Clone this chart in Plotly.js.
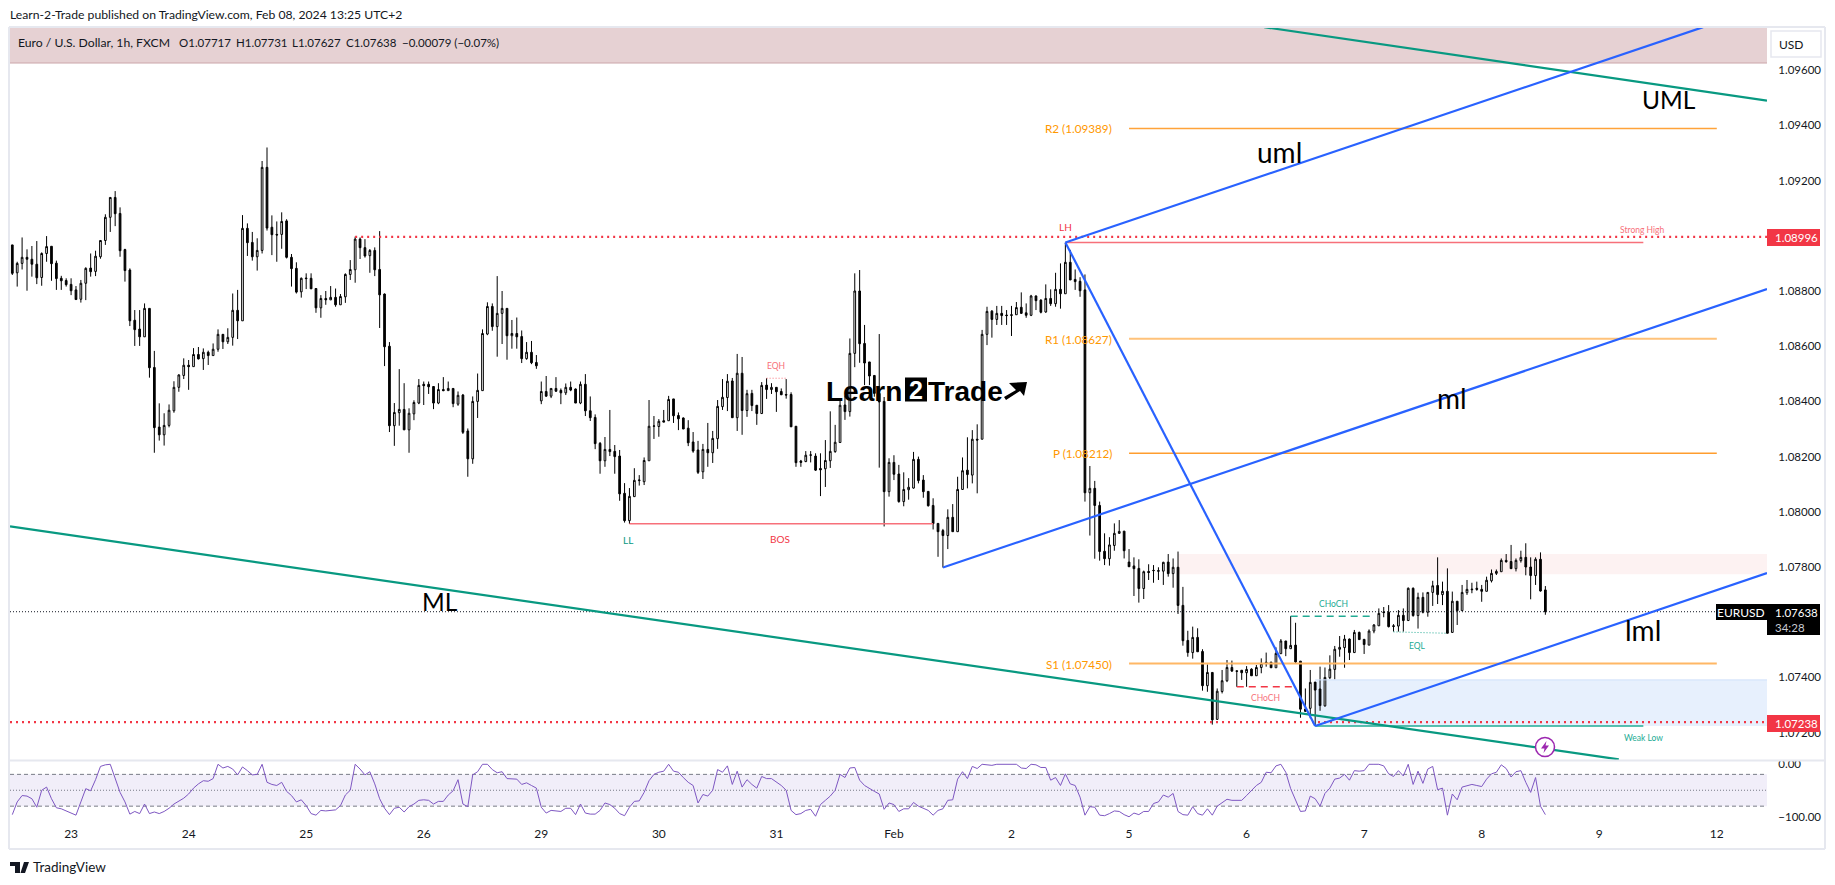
<!DOCTYPE html>
<html><head><meta charset="utf-8">
<script src="https://cdn.plot.ly/plotly-3.0.1.min.js"></script>
<style>html,body{margin:0;padding:0;background:#fff}#chart{width:1835px;height:885px}</style>
</head><body><div id="chart"></div>
<script>
// EUR/USD 1h values, in points above 1.00000 (8967 = 1.08967)
const opens=[8967,8866,8900,8922,8915,8897,8849,8936,8962,8901,
8846,8838,8824,8804,8770,8828,8883,8871,8924,8983,
9067,9139,9081,8950,8876,8694,8662,8634,8737,8523,
8307,8279,8313,8366,8451,8494,8531,8526,8570,8555,
8578,8566,8589,8643,8616,8632,8730,8692,9027,8976,
8924,8947,9248,9031,9005,9005,9054,8922,8882,8797,
8847,8846,8809,8739,8773,8768,8777,8750,8779,8860,
8877,8988,8957,8928,8947,8878,8789,8600,8312,8359,
8371,8297,8355,8394,8462,8462,8454,8394,8443,8439,
8447,8390,8423,8293,8192,8400,8439,8644,8744,8671,
8719,8737,8638,8646,8635,8555,8578,8541,8402,8436,
8419,8447,8440,8431,8451,8445,8394,8462,8366,8342,
8248,8185,8226,8219,8202,8067,7968,8055,8113,8109,
8185,8310,8309,8330,8330,8409,8349,8340,8303,8253,
8224,8145,8226,8214,8265,8381,8414,8474,8341,8502,
8367,8429,8386,8356,8459,8443,8451,8436,8425,8425,
8310,8184,8182,8205,8202,8157,8156,8185,8218,8251,
8387,8363,8574,8800,8610,8543,8494,8429,8400,8073,
8179,8137,8037,8080,8086,8190,8115,8074,8023,7958,
7932,7914,7980,7928,8081,8151,8133,8263,8263,8643,
8727,8697,8719,8713,8714,8714,8741,8721,8712,8782,
8767,8724,8773,8754,8806,8790,8904,8842,8835,8804,
8069,8085,8023,7857,7830,7878,7922,7930,7818,7804,
7795,7722,7784,7788,7787,7785,7818,7776,7799,7661,
7534,7490,7545,7494,7370,7418,7248,7349,7388,7436,
7424,7426,7417,7430,7406,7436,7455,7455,7435,7486,
7532,7504,7517,7459,7285,7288,7383,7358,7297,7399,
7429,7502,7508,7539,7490,7563,7538,7517,7568,7587,
7637,7636,7587,7586,7625,7606,7723,7624,7690,7636,
7708,7733,7700,7712,7563,7676,7642,7707,7720,7723,
7719,7712,7750,7777,7783,7824,7820,7794,7823,7835,
7800,7769,7828,7717];
const highs=[8967,8906,8994,8951,8963,8981,8940,8999,8962,8910,
8855,8846,8846,8818,8840,8886,8936,8946,8983,9078,
9139,9162,9103,8953,8882,8731,8731,8755,8737,8583,
8393,8357,8389,8473,8498,8556,8550,8593,8597,8592,
8584,8610,8661,8643,8665,8791,8804,9075,9045,9014,
8991,9271,9320,9074,9052,9085,9060,8934,8904,8849,
8864,8864,8809,8785,8800,8818,8809,8789,8864,8912,
8997,8994,8988,8952,8958,9017,8791,8615,8394,8517,
8466,8375,8404,8481,8472,8472,8454,8466,8488,8472,
8447,8436,8427,8302,8418,8501,8661,8759,8755,8854,
8800,8737,8695,8704,8657,8615,8619,8568,8472,8492,
8447,8488,8447,8465,8472,8447,8472,8499,8418,8353,
8253,8271,8369,8242,8224,8104,8086,8158,8133,8197,
8405,8347,8336,8369,8420,8409,8360,8342,8332,8289,
8257,8246,8322,8293,8405,8481,8499,8485,8572,8561,
8442,8442,8386,8470,8484,8466,8451,8447,8481,8433,
8310,8188,8220,8220,8212,8212,8260,8364,8315,8405,
8421,8628,8864,8876,8677,8543,8494,8644,8416,8194,
8205,8170,8143,8122,8217,8200,8133,8074,8049,7958,
7938,8009,8028,8127,8197,8270,8296,8317,8659,8743,
8731,8746,8746,8731,8746,8760,8795,8755,8786,8784,
8770,8824,8806,8866,8900,8975,8949,8878,8850,8860,
8166,8112,8037,7922,7908,7958,7970,7930,7865,7835,
7828,7787,7810,7807,7799,7819,7847,7831,7856,7728,
7569,7584,7578,7502,7447,7418,7360,7427,7463,7461,
7424,7426,7441,7433,7445,7469,7490,7457,7509,7539,
7532,7622,7598,7459,7360,7427,7383,7439,7436,7480,
7514,7550,7554,7541,7572,7566,7538,7574,7593,7650,
7655,7662,7593,7644,7650,7726,7726,7707,7708,7708,
7750,7835,7747,7795,7711,7676,7735,7753,7743,7747,
7735,7765,7791,7791,7831,7847,7880,7831,7859,7886,
7835,7835,7853,7731];
const lows=[8858,8816,8878,8801,8852,8825,8819,8906,8837,8804,
8804,8816,8785,8769,8758,8767,8852,8854,8917,8967,
9014,9035,8924,8834,8673,8601,8601,8634,8486,8214,
8258,8240,8306,8359,8435,8481,8442,8526,8552,8514,
8532,8566,8580,8590,8608,8602,8626,8692,8927,8910,
8874,8936,9019,8930,8906,8953,8918,8816,8791,8776,
8807,8807,8721,8703,8750,8767,8743,8750,8757,8840,
8830,8916,8921,8866,8854,8666,8528,8289,8239,8312,
8297,8214,8332,8390,8387,8427,8372,8390,8437,8439,
8379,8384,8282,8127,8174,8340,8439,8640,8656,8562,
8608,8551,8591,8591,8539,8551,8535,8518,8390,8417,
8412,8434,8390,8423,8437,8394,8390,8347,8329,8227,
8138,8163,8202,8138,8040,7961,7956,8055,8095,8097,
8185,8264,8272,8325,8330,8322,8296,8300,8238,8214,
8137,8119,8163,8177,8228,8369,8365,8341,8293,8279,
8344,8365,8315,8356,8409,8427,8362,8423,8410,8308,
8163,8163,8180,8179,8148,8057,8090,8159,8214,8251,
8333,8345,8524,8540,8459,8459,8417,8160,7947,8055,
8115,8033,8020,8044,8084,8103,8051,8019,7936,7837,
7798,7865,7928,7928,8079,8085,8103,8067,8263,8604,
8631,8677,8677,8677,8637,8714,8717,8703,8709,8731,
8719,8721,8746,8743,8736,8790,8840,8804,8779,8037,
7914,7830,7823,7807,7805,7859,7920,7831,7801,7695,
7671,7684,7753,7743,7753,7735,7765,7725,7630,7515,
7475,7468,7493,7352,7348,7229,7246,7342,7383,7420,
7366,7391,7366,7406,7406,7415,7439,7435,7435,7486,
7477,7504,7449,7254,7276,7252,7224,7279,7294,7394,
7393,7475,7435,7463,7490,7537,7485,7517,7560,7587,
7618,7581,7566,7566,7566,7606,7620,7577,7632,7620,
7659,7666,7662,7560,7563,7590,7642,7699,7705,7714,
7674,7712,7744,7771,7783,7816,7793,7784,7816,7770,
7683,7735,7711,7627];
const closes=[8864,8900,8922,8915,8897,8848,8936,8961,8899,8845,
8837,8823,8801,8769,8828,8882,8870,8926,8983,9067,
9139,9080,8946,8874,8692,8660,8634,8737,8522,8305,
8279,8313,8368,8451,8496,8531,8526,8570,8554,8578,
8566,8589,8643,8616,8632,8730,8692,9027,8975,8924,
8947,9248,9028,9004,9003,9052,8922,8881,8796,8846,
8845,8808,8739,8773,8768,8777,8750,8780,8860,8878,
8988,8957,8927,8947,8877,8786,8598,8312,8360,8371,
8297,8357,8396,8458,8457,8453,8394,8443,8439,8447,
8392,8422,8288,8192,8400,8440,8646,8744,8671,8719,
8737,8638,8646,8634,8555,8578,8540,8529,8436,8419,
8447,8437,8431,8451,8441,8394,8462,8366,8341,8247,
8185,8226,8218,8200,8065,7968,8056,8114,8115,8186,
8310,8311,8328,8325,8407,8348,8337,8300,8250,8220,
8143,8226,8214,8266,8382,8415,8473,8341,8502,8367,
8428,8385,8356,8458,8443,8451,8435,8424,8423,8308,
8178,8179,8205,8206,8151,8152,8186,8219,8252,8386,
8363,8574,8800,8609,8539,8492,8429,8398,8073,8179,
8136,8037,8081,8089,8190,8113,8073,8022,7957,7928,
7914,7980,7928,8081,8149,8135,8263,8260,8643,8726,
8697,8719,8711,8711,8712,8740,8719,8712,8782,8765,
8723,8773,8754,8806,8790,8904,8840,8834,8801,8069,
8085,8023,7856,7830,7880,7922,7929,7859,7801,7794,
7722,7783,7780,7787,7785,7817,7776,7799,7661,7533,
7490,7545,7493,7370,7418,7246,7350,7388,7436,7423,
7422,7417,7429,7406,7436,7451,7450,7435,7487,7532,
7504,7516,7456,7285,7277,7382,7354,7298,7400,7430,
7502,7509,7539,7490,7563,7537,7519,7568,7590,7632,
7635,7584,7585,7625,7606,7723,7624,7690,7636,7708,
7732,7700,7712,7560,7676,7642,7708,7719,7718,7719,
7712,7752,7777,7784,7824,7819,7794,7824,7835,7800,
7769,7828,7713,7638];
// Williams %R style oscillator, one value per bar
const oscillator=[-96,-72,-60,-61,-66,-82,-50,-44,-66,-83,
-85,-89,-94,-97,-72,-47,-51,-30,-5,-2,
-1,-26,-54,-72,-95,-90,-94,-76,-94,-91,
-94,-90,-84,-76,-71,-65,-57,-46,-38,-32,
-33,-28,-1,-8,-5,-10,-21,-6,-13,-21,
-20,-1,-35,-39,-41,-35,-52,-60,-72,-68,
-79,-94,-97,-88,-89,-88,-87,-79,-59,-50,
-1,-10,-21,-15,-38,-66,-84,-96,-84,-82,
-91,-81,-76,-69,-68,-69,-76,-71,-71,-59,
-51,-30,-76,-81,-21,-15,-1,-1,-11,-17,
-15,-28,-28,-29,-39,-36,-41,-46,-82,-93,
-88,-89,-90,-84,-84,-96,-76,-93,-95,-95,
-88,-74,-77,-84,-94,-98,-82,-71,-70,-54,
-32,-20,-16,-14,-1,-14,-16,-26,-35,-41,
-74,-58,-61,-50,-11,-16,-4,-39,-14,-44,
-30,-39,-46,-24,-28,-28,-34,-41,-50,-88,
-96,-94,
-88,-86,-99,-77,-69,-61,-50,-20,-26,-8,
-7,-31,-41,-47,-52,-57,-86,-74,-77,-90,
-85,-85,-73,-80,-84,-88,-97,-88,-85,-69,
-68,-29,-15,-28,-5,-9,-1,-2,-3,-1,
-1,-1,-1,-1,-8,-9,-1,-2,-7,-7,
-31,-26,-41,-19,-38,-41,-63,-97,-81,-82,
-97,-98,-94,-89,-90,-96,-100,-93,-96,-90,
-90,-75,-72,-59,-63,-56,-90,-96,-97,-81,
-94,-97,-85,-97,-80,-74,-67,-69,-69,-69,
-60,-50,-41,-35,-16,-17,-4,-1,-16,-47,
-69,-90,-89,-61,-66,-80,-56,-46,-29,-27,
-20,-31,-13,-14,-13,-1,-1,-1,-4,-19,
-24,-13,-23,-1,-39,-14,-37,-10,-5,-49,
-46,-97,-57,-68,-44,-41,-39,-41,-43,-29,
-19,-16,-2,-9,-25,-15,-13,-35,-54,-26,
-80,-96];
const dayTickBars=[12,36,60,84,108,132,156,180,204,228,252,276,300,324,348];
const dayTickLabels=['23','24','25','26','29','30','31','Feb','2','5','6','7','8','9','12'];
const priceTicks=[1.072,1.074,1.076,1.078,1.08,1.082,1.084,1.086,1.088,1.09,1.092,1.094,1.096];
const priceTickLabels=['1.07200','1.07400','','1.07800','1.08000','1.08200','1.08400','1.08600','1.08800','','1.09200','1.09400','1.09600'];
const oscTicks=[0,-100];
const oscTickLabels=['0.00','−100.00'];
const pivots=[['R2',9389],['R1',8627],['P',8212],['S1',7450]];

const W=1835,H=885, BLUE='#2962ff', GREEN='#089981', RED='#f23645', ORANGE='#ff9800', FONT='Lato, "Open Sans", sans-serif';
const px=v=>1+v/1e5;
const bars=opens.map((_,i)=>i);
const xL=-0.47,xR=358.25,yT=px(9756.5),yB=px(7100.8);

const traces=[
 {type:'candlestick',x:bars,open:opens.map(px),high:highs.map(px),low:lows.map(px),close:closes.map(px),
  increasing:{line:{color:'#000',width:1},fillcolor:'#fff'},decreasing:{line:{color:'#000',width:1},fillcolor:'#000'},
  whiskerwidth:0,xaxis:'x',yaxis:'y',hoverinfo:'skip',showlegend:false},
 {type:'scatter',mode:'lines',x:bars,y:oscillator,line:{color:'#7e57c2',width:1},xaxis:'x',yaxis:'y2',hoverinfo:'skip',showlegend:false}
];

const seg=(x0,p0,x1,p1,color,width,dash)=>({type:'line',xref:'x',yref:'y',x0,x1,y0:px(p0),y1:px(p1),line:{color,width,dash:dash||'solid'},layer:'above'});
const zone=(x0,x1,p0,p1,fill,line)=>({type:'rect',xref:'x',yref:'y',x0,x1,y0:px(p0),y1:px(p1),fillcolor:fill,line:{width:line?1:0,color:line||'rgba(0,0,0,0)'},layer:'below'});
const box=(x0,y0,x1,y1,fill,line,lw)=>({type:'rect',xref:'paper',yref:'paper',x0:x0/W,x1:x1/W,y0:1-y0/H,y1:1-y1/H,fillcolor:fill,line:{width:lw||0,color:line||'rgba(0,0,0,0)'},layer:'above'});
const poly=(pts,fill)=>({type:'path',xref:'paper',yref:'paper',path:'M'+pts.map(p=>(p[0]/W)+','+(1-p[1]/H)).join('L')+'Z',fillcolor:fill,line:{width:0},layer:'above'});
const frameLine=(x0,y0,x1,y1)=>({type:'line',xref:'paper',yref:'paper',x0:x0/W,x1:x1/W,y0:1-y0/H,y1:1-y1/H,line:{color:'#e6e8ef',width:2},layer:'above'});
const osc=(v,dash)=>({type:'line',xref:'x',yref:'y2',x0:xL,x1:xR,y0:v,y1:v,line:{color:'#787b86',width:1,dash},layer:'below'});

const shapes=[
 zone(xL,xR,9626,9800,'#e6d1d3'),
 seg(xL,9626,xR,9626,'#cba7ab',1),
 zone(238,xR,7774,7847,'#fdf2f2'),
 zone(266,xR,7224,7391,'#e7f0fd'),
 seg(266,7391,xR,7391,'#cfe0fa',1),
 {type:'rect',xref:'x',yref:'y2',x0:xL,x1:xR,y0:-80,y1:-20,fillcolor:'#f1eef9',line:{width:0},layer:'below'},
 osc(-20,'4px,3px'),osc(-80,'4px,3px'),osc(-50,'1px,2px'),
 seg(xL,7638,xR,7638,'#131722',1,'1px,2px'),
 seg(70,8996,xR,8996,RED,2.2,'2px,4px'),
 seg(xL,7238,xR,7238,RED,2.2,'2px,4px'),
 seg(215,8976,333,8976,'#f7707a',1.5),
 seg(126,7957,188,7957,'#f7707a',1.5),
 seg(154,8484,158,8484,'#f7707a',1,'1px,2px'),
 seg(266,7224,333,7224,'#22ab94',1.5),
 seg(261,7622,278,7622,'#22ab94',1.5,'7px,5px'),
 seg(250,7366,262,7366,RED,1.5,'7px,5px'),
 seg(282,7565,293,7560,'#22ab94',1,'1px,2px'),
 seg(228,9389,348,9389,'#ffa33a',1.5),
 seg(228,8627,348,8627,'#ffc27a',2),
 seg(228,8212,348,8212,'#ff9d2e',1.5),
 seg(228,7450,348,7450,'#ffb765',2),
 seg(255.6,9756,xR,9490,GREEN,2.2),
 seg(xL,7947,328,7103,GREEN,2.2),
 seg(215,8976,345.2,9756,BLUE,2.2),
 seg(190,7798,xR,8807,BLUE,2.2),
 seg(266,7224,xR,7778,BLUE,2.2),
 seg(215,8976,266,7224,BLUE,2.2),
 // outer frame and pane separator
 frameLine(9,27,1825,27),frameLine(9,27,9,849),frameLine(1825,27,1825,849),frameLine(9,849,1825,849),
 frameLine(10,760.5,1825,760.5),
 // price tags
 box(1767,229,1820,246,RED),box(1767,715,1820,732,RED),
 box(1767,604,1820,635,'#000'),box(1716,604,1767,620,'#000'),
 box(1771,31,1821,57,'#fff','#e6e8ef',1.5),
 // logo "2" box and arrow
 box(905,377.5,927,401.5,'#000'),
 poly([[1004,397],[1016,390],[1009,383],[1027,382],[1024,396],[1020,391],[1006,400]],'#000'),
 // alert icon
 {type:'circle',xref:'paper',yref:'paper',x0:1535.5/W,x1:1554.5/W,y0:1-737.5/H,y1:1-756.5/H,fillcolor:'#fff',line:{color:'#9c27b0',width:1.5},layer:'above'},
 poly([[1546.5,741],[1541,748.5],[1544.5,748.5],[1543.5,753],[1549,745.5],[1545.5,745.5]],'#9c27b0'),
 // TradingView mark
 poly([[10,862],[20,862],[20,873],[15,873],[15,866],[10,866]],'#131722'),
 poly([[24,862],[29,862],[25,873],[20.5,873]],'#131722')
];

const txt=(x,y,text,size,color,anchor,extra)=>Object.assign({xref:'paper',yref:'paper',x:x/W,y:1-y/H,text,showarrow:false,
  font:{family:FONT,size,color},xanchor:anchor||'center',yanchor:'middle',align:'left',borderpad:0,borderwidth:0},extra||{});
const annotations=[
 txt(10,15,'Learn-2-Trade published on TradingView.com, Feb 08, 2024 13:25 UTC+2',12.2,'#131722','left'),
 txt(18,42,'Euro / U.S. Dollar, 1h, FXCM',12.2,'#131722','left'),
 txt(179,42,'O1.07717',11.5,'#131722','left'),
 txt(236,42,'H1.07731',11.5,'#131722','left'),
 txt(292,42,'L1.07627',11.5,'#131722','left'),
 txt(346,42,'C1.07638',11.5,'#131722','left'),
 txt(401.5,42,'−0.00079 (−0.07%)',11.5,'#131722','left'),
 txt(1791,44,'USD',12,'#131722'),
 txt(1775,237.5,'1.08996',11.5,'#fff','left'),
 txt(1775,723.5,'1.07238',11.5,'#fff','left'),
 txt(1775,612,'1.07638',11.5,'#fff','left'),
 txt(1775,627,'34:28',11.5,'#c9cbd3','left'),
 txt(1741,612,'EURUSD',12,'#fff'),
 txt(1669,99,'UML',24.5,'#000'),txt(1279,152,'uml',28,'#000'),txt(1452,398,'ml',28,'#000'),
 txt(440,601,'ML',24.5,'#000'),txt(1643,630,'lml',28,'#000'),
 txt(1065,227,'LH',10,RED),txt(628,540,'LL',10,'#089981'),txt(780,539,'BOS',10,RED),
 txt(776,366,'EQH',8.5,'#f7707a'),txt(1642,230,'Strong High',8.5,'#f7707a'),
 txt(1333,604,'CHoCH',8.5,'#22ab94'),txt(1265,698,'CHoCH',8.5,'#f7707a'),txt(1417,646,'EQL',8.5,'#22ab94'),txt(1643,738,'Weak Low',8.5,'#22ab94'),
 ...pivots.map(([n,v])=>txt(1112,291+(8800-v)/3.623,n+' ('+px(v).toFixed(5)+')',11.7,ORANGE,'right')),
 txt(826,391,'<b>Learn</b>',28,'#000','left',{font:{family:'"Liberation Sans"',size:28,color:'#000'}}),
 txt(916,390,'<b>2</b>',25,'#fff','center',{font:{family:'"Liberation Sans"',size:25,color:'#fff'}}),
 txt(928,391,'<b>Trade</b>',28,'#000','left',{font:{family:'"Liberation Sans"',size:28,color:'#000'}}),
 txt(33,867,'TradingView',13.5,'#131722','left')
];

const layout={
 width:W,height:H,margin:{l:0,r:0,t:0,b:0,pad:0},paper_bgcolor:'#fff',plot_bgcolor:'#fff',showlegend:false,dragmode:false,boxgap:0.5,
 font:{family:FONT,size:12,color:'#131722'},
 xaxis:{domain:[10/W,1767/W],range:[xL,xR],anchor:'y2',rangeslider:{visible:false},showgrid:false,zeroline:false,showline:false,
   tickmode:'array',tickvals:dayTickBars,ticktext:dayTickLabels,ticks:'outside',ticklen:2,tickcolor:'rgba(0,0,0,0)',tickfont:{size:12,family:FONT,color:'#131722'}},
 yaxis:{domain:[1-760/H,1-27/H],range:[yB,yT],anchor:'x',side:'right',showgrid:false,zeroline:false,showline:false,
   tickmode:'array',tickvals:priceTicks,ticktext:priceTickLabels,ticks:'outside',ticklen:8,tickcolor:'rgba(0,0,0,0)',tickfont:{size:11.5,family:FONT,color:'#131722'}},
 yaxis2:{domain:[1-821/H,1-760/H],range:[-108,7.1],anchor:'x',side:'right',showgrid:false,zeroline:false,showline:false,
   tickmode:'array',tickvals:oscTicks,ticktext:oscTickLabels,ticks:'outside',ticklen:8,tickcolor:'rgba(0,0,0,0)',tickfont:{size:11.5,family:FONT,color:'#131722'}},
 shapes,annotations
};
Plotly.newPlot('chart',traces,layout,{displayModeBar:false,staticPlot:true});
</script></body></html>
